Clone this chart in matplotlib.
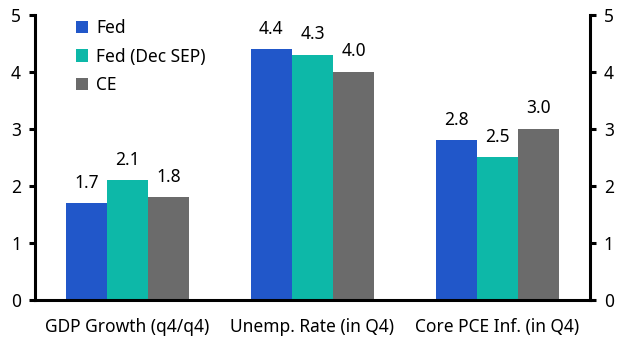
import matplotlib.pyplot as plt
import numpy as np

plt.rcParams['font.family'] = ['Noto Sans', 'DejaVu Sans']

categories = ['GDP Growth (q4/q4)', 'Unemp. Rate (in Q4)', 'Core PCE Inf. (in Q4)']
series = ['Fed', 'Fed (Dec SEP)', 'CE']
fed = [1.7, 4.4, 2.8]
fed_dec = [2.1, 4.3, 2.5]
ce = [1.8, 4.0, 3.0]
colors = ['#2157C9', '#0DB8A8', '#6B6B6B']

fig = plt.figure(figsize=(6.29, 3.54), dpi=100)
ax = fig.add_axes([0.0556, 0.153, 0.8824, 0.805])

x = np.arange(len(categories))
w = 0.222
for i, (vals, lab, col) in enumerate(zip([fed, fed_dec, ce], series, colors)):
    pos = x + (i - 1) * w
    ax.bar(pos, vals, width=w, color=col, label=lab)
    for p, v in zip(pos, vals):
        ax.text(p, v + 0.2, f'{v:.1f}', ha='center', va='bottom', fontsize=12.5)

ax.set_xlim(-0.5, 2.5)
ax.set_ylim(0, 5)
ax.set_yticks(range(6))
ax.set_xticks(x)
ax.set_xticklabels(categories, fontsize=12.5)
ax.tick_params(axis='x', length=0, pad=13)
ax.tick_params(axis='y', direction='out', length=4, width=2.2, labelsize=12.5,
               left=True, right=True, labelleft=True, labelright=True, pad=6)
for s in ['left', 'right', 'bottom']:
    ax.spines[s].set_linewidth(2.2)
ax.spines['top'].set_visible(False)

ax.legend(loc='upper left', bbox_to_anchor=(0.045, 1.04), frameon=False,
          fontsize=12.5, handlelength=0.7, handleheight=0.7, handletextpad=0.5,
          labelspacing=0.6)

fig.savefig('out.png', dpi=100)
